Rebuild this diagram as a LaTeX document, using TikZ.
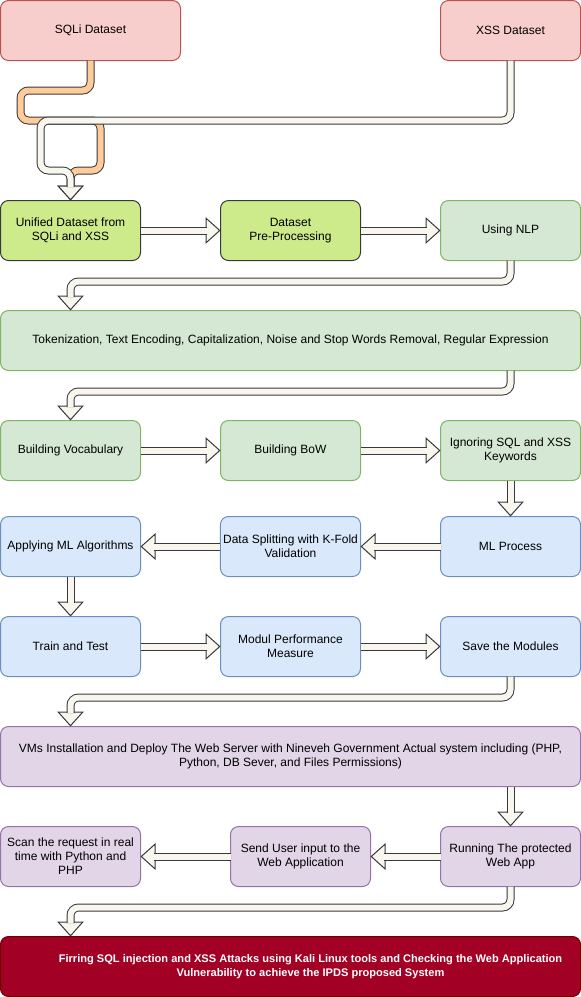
\documentclass[tikz,border=0pt]{standalone}
\usepackage{fontspec}
\setmainfont{Liberation Sans}
\usetikzlibrary{arrows.meta,calc}

\definecolor{pipefill}{HTML}{F9F7ED}
\definecolor{pipeedge}{HTML}{36393D}
\definecolor{pipeorange}{HTML}{FFCC99}
\definecolor{pinkfill}{HTML}{F8CECC}
\definecolor{pinkedge}{HTML}{B85450}
\definecolor{limefill}{HTML}{CDEB8B}
\definecolor{greenfill}{HTML}{D5E8D4}
\definecolor{greenedge}{HTML}{82B366}
\definecolor{bluefill}{HTML}{DAE8FC}
\definecolor{blueedge}{HTML}{6C8EBF}
\definecolor{purplefill}{HTML}{E1D5E7}
\definecolor{purpleedge}{HTML}{9673A6}
\definecolor{redfill}{HTML}{A20025}
\definecolor{rededge}{HTML}{6F0000}

\newcommand{\flexarrow}[2][pipefill]{%
  \draw[flexhead=#1] #2;
  \draw[flexshaft=#1] #2;
}

\begin{document}
\begin{tikzpicture}[x=0.75pt, y=-0.75pt,
box/.style={rectangle, rounded corners=6pt, line width=0.75pt, align=center,
  minimum width=105pt, minimum height=45pt, inner sep=2pt, outer sep=0pt,
  font=\fontsize{9}{10.5}\selectfont},
wide/.style={box, minimum width=435pt},
dataset/.style={box, fill=pinkfill, draw=pinkedge},
unify/.style={box, fill=limefill, draw=pipeedge},
nlpbox/.style={box, fill=greenfill, draw=greenedge},
mlbox/.style={box, fill=bluefill, draw=blueedge},
webbox/.style={box, fill=purplefill, draw=purpleedge},
attack/.style={box, fill=redfill, draw=rededge},
firetext/.style={text=white, align=center, inner sep=0pt,
  font=\fontsize{8.3}{10.8}\selectfont\bfseries},
flexshaft/.style={draw=pipeedge, line width=0.75pt, double=#1, double distance=4.5pt,
  rounded corners=6pt, shorten >=10pt},
flexhead/.style={draw=pipeedge, line width=0.01pt, rounded corners=6pt,
  -{Triangle[length=11.25pt, width=20pt, line width=0.75pt, fill=#1]}}]

\useasboundingbox (-0.5,-0.5) rectangle (580.5,996.5);

\node[dataset, minimum width=135pt] (sqli) at (90,30) {SQLi Dataset};
\node[dataset] (xss) at (510,30) {XSS Dataset};

\node[unify] (uni) at (70,230) {Unified Dataset from\\SQLi and XSS};
\node[unify] (pre) at (290,230) {Dataset\\Pre-Processing};
\node[nlpbox] (nlp) at (510,230) {Using NLP};

\node[nlpbox, wide] (tok) at (290,340) {Tokenization, Text Encoding, Capitalization, Noise and Stop Words Removal, Regular Expression};

\node[nlpbox] (voc) at (70,450) {Building Vocabulary};
\node[nlpbox] (bow) at (290,450) {Building BoW};
\node[nlpbox] (ign) at (510,450) {Ignoring SQL and XSS\\Keywords};

\node[mlbox] (apply) at (70,546) {Applying ML Algorithms};
\node[mlbox] (split) at (290,546) {Data Splitting with K-Fold\\Validation};
\node[mlbox] (mlp) at (510,546) {ML Process};

\node[mlbox] (train) at (70,646) {Train and Test};
\node[mlbox] (perf) at (290,646) {Modul Performance\\Measure};
\node[mlbox] (save) at (510,646) {Save the Modules};

\node[webbox, wide] (vms) at (290,756) {VMs Installation and Deploy The Web Server with Nineveh Government Actual system including (PHP,\\Python, DB Sever, and Files Permissions)};

\node[webbox] (scan) at (70,856) {Scan the request in real\\time with Python and\\PHP};
\node[webbox] (send) at (300,856) {Send User input to the\\Web Application};
\node[webbox] (run) at (510,856) {Running The protected\\Web App};

\node[attack, wide, label={[firetext, xshift=15pt]center:{Firring SQL injection and XSS Attacks using Kali Linux tools and Checking the Web Application\\Vulnerability to achieve the IPDS proposed System}}] (fire) at (290,966) {};

\flexarrow[pipeorange]{(sqli.south) -- ++(0,30) -| ($(sqli.south)+(-70,60)$) -| ($(uni.north)+(30,-30)$) -| (uni.north)}
\flexarrow{(xss.south) |- ($(uni.north)+(-30,-80)$) |- ($(uni.north)+(0,-30)$) -- (uni.north)}

\flexarrow{(uni.east) -- (pre.west)}
\flexarrow{(pre.east) -- (nlp.west)}
\flexarrow{(nlp.south) -- ++(0,21) -| ($(tok.north west)+(70,0)$)}
\flexarrow{($(tok.south east)+(-70,0)$) -- ++(0,21) -| (voc.north)}
\flexarrow{(voc.east) -- (bow.west)}
\flexarrow{(bow.east) -- (ign.west)}
\flexarrow{(ign.south) -- (mlp.north)}
\flexarrow{(mlp.west) -- (split.east)}
\flexarrow{(split.west) -- (apply.east)}
\flexarrow{(apply.south) -- (train.north)}
\flexarrow{(train.east) -- (perf.west)}
\flexarrow{(perf.east) -- (save.west)}
\flexarrow{(save.south) -- ++(0,21) -| ($(vms.north west)+(70,0)$)}
\flexarrow{($(vms.south east)+(-70,0)$) -- (run.north)}
\flexarrow{(run.west) -- (send.east)}
\flexarrow{(send.west) -- (scan.east)}
\flexarrow{(run.south) -- ++(0,21) -| ($(fire.north west)+(70,0)$)}

\end{tikzpicture}
\end{document}
